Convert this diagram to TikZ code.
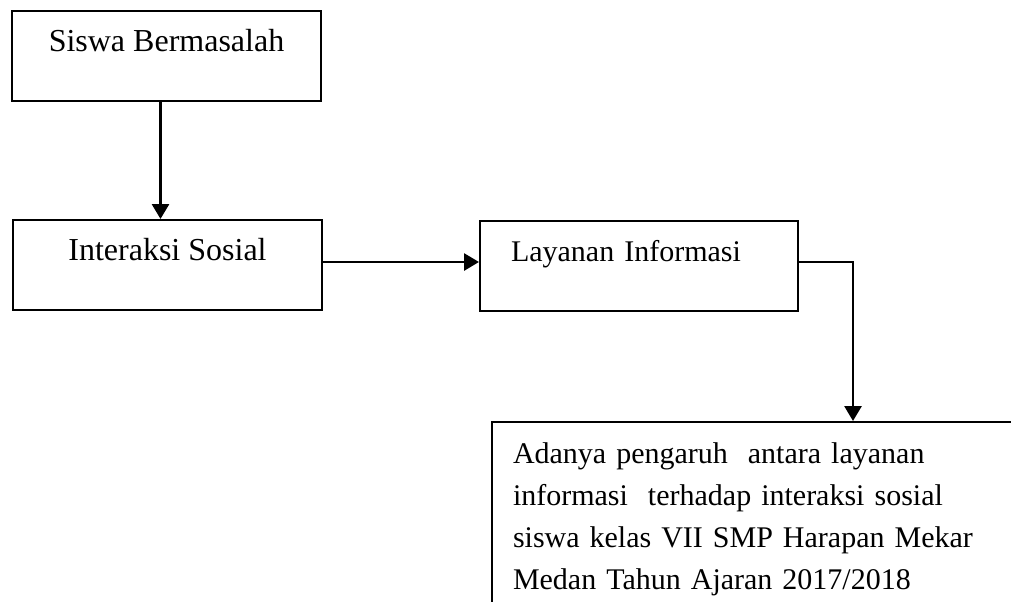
\documentclass[tikz,border=0pt]{standalone}
\usepackage{fontspec}
\setmainfont{Liberation Serif}
\usepackage{tikz}
\usetikzlibrary{positioning,arrows.meta}
\definecolor{ink}{HTML}{000000}

\begin{document}
\begin{tikzpicture}[every node/.style={inner sep=0pt, text=ink, font=\fontsize{15}{21}\selectfont},
  box/.style={draw=ink, line width=1pt, anchor=north west, minimum width=154.5pt,
    text height=20pt, text depth=25pt},
  flow/.style={draw=ink, line width=1.4pt, -{Triangle[length=7.5pt,width=8.5pt]}}]
\useasboundingbox (0,0) rectangle (505.5pt,-300.5pt);
\clip (0,0) rectangle (505.5pt,-300.5pt);
% 1. the three upper boxes
\node[box, font=\fontsize{16}{21}\selectfont] (siswa) at (5.5pt,-5pt) {Siswa Bermasalah};
\node[box, font=\fontsize{16}{21}\selectfont] (interaksi) at (6pt,-109.5pt) {Interaksi Sosial};
\node[box, minimum width=159pt, text width=128pt, inner xsep=15.5pt, align=left] (layanan) at (239.5pt,-110pt) {Layanan Informasi};
% 2. the result box, cut off by the page edge on the right and at the bottom
\node[box, text width=255pt, inner xsep=10.5pt, align=left, text height=20.5pt, text depth=80pt] (hasil) at (245.5pt,-210.5pt) {%
  Adanya pengaruh~ antara layanan\\
  informasi~ terhadap interaksi sosial\\
  siswa kelas VII SMP Harapan Mekar\\
  Medan Tahun Ajaran 2017/2018};
% 3. arrows
\draw[flow] ([xshift=-3pt,yshift=1pt]siswa.south) -- ([xshift=-3pt]siswa.south |- interaksi.north);
\draw[flow] ([xshift=-1pt,yshift=1.5pt]interaksi.east) -- ([yshift=1.5pt]interaksi.east -| layanan.west);
\draw[flow] ([yshift=2pt]layanan.east) -| ([xshift=181pt]hasil.north west);
\end{tikzpicture}
\end{document}
